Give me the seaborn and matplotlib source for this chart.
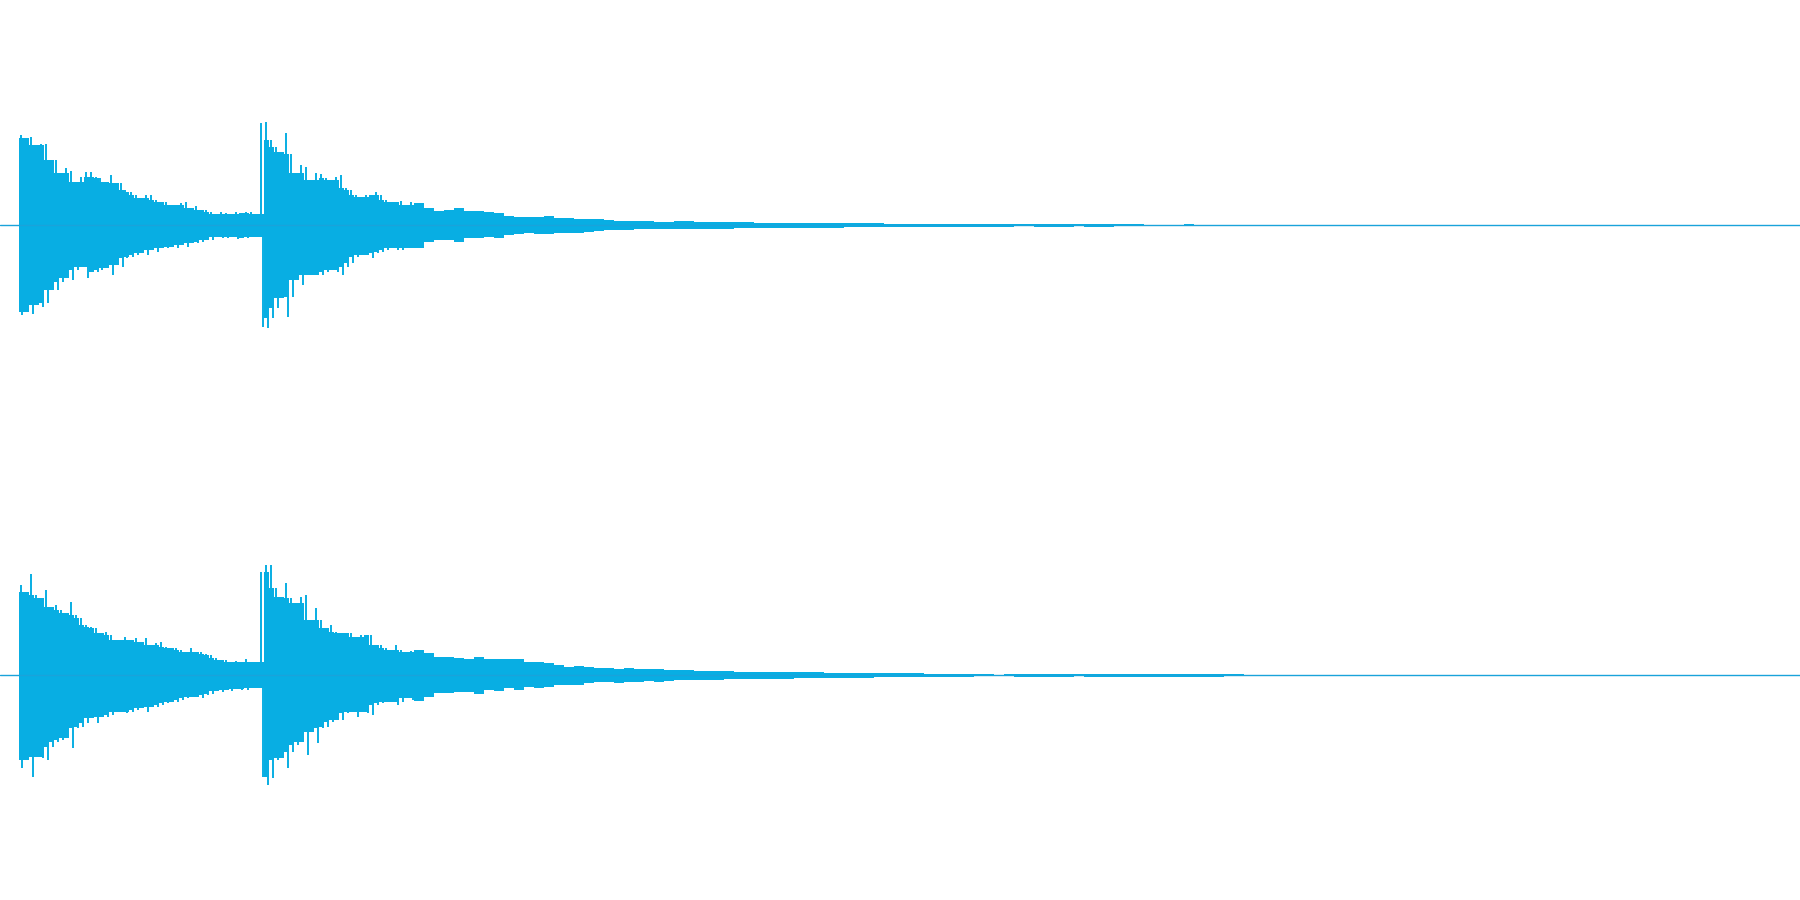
import numpy as np
import matplotlib
matplotlib.use("Agg")
import matplotlib.pyplot as plt
import seaborn as sns

# Peak levels, in units of 1/225 of full scale.
# "hi" = positive peak, "lo" = magnitude of negative peak, per time bin.
FULL_SCALE = 225.0
DURATION = 9.0          # seconds shown across the view
HEAD_START = 0.095      # first sound (s)
HEAD_STEP = 0.025       # bin width for the loud part (s)
TAIL_STEP = 0.05        # bin width for the decay tail (s)

# left channel
top_hi_head = [90, 87, 88, 80, 81, 81, 65, 65, 52, 57, 54, 43, 48, 53, 53, 48, 47, 43, 50, 42,
               42, 35, 33, 30, 27, 30, 30, 25, 23, 23, 20, 20, 22, 23, 17, 19, 15, 15, 13,
               11, 13, 12, 11, 13, 12, 13, 13, 11, 102, 103, 85, 78, 73, 92, 71, 52, 60, 58, 45,
               52, 51, 47, 45, 48, 50, 37, 35, 30, 28, 30, 30, 33, 30, 25, 23, 23, 24, 20, 23]
top_lo_head = [90, 87, 89, 80, 82, 78, 65, 65, 57, 53, 55, 45, 42, 53, 47, 47, 45, 43, 50, 40,
               42, 33, 32, 30, 28, 30, 25, 27, 23, 23, 22, 23, 20, 22, 18, 18, 17, 15, 15,
               12, 13, 13, 12, 14, 13, 13, 12, 12, 102, 103, 93, 83, 73, 92, 72, 55, 60, 50, 50,
               50, 50, 47, 45, 47, 50, 42, 38, 32, 30, 30, 33, 28, 27, 25, 23, 25, 25, 23, 23]
top_hi_tail = [22, 17, 14, 15, 17, 14, 14, 13, 12, 9, 8, 8, 8, 9, 7, 7, 6, 6, 6, 5, 4, 4, 4, 4, 3,
               3, 4, 4, 3,
               3, 3, 3, 3, 3, 2.5, 2.5, 2.5, 2.5, 2.5, 2.5, 2.5, 2.5, 2, 2, 2, 2, 2, 1.5, 1.5,
               1.5, 1.5, 1.5, 1.5, 1.5, 1.5, 1.5,
               1.5, 1.5, 1.5, 1.5, 1, 1, 1.5, 1.5, 1.5, 1.5, 1, 1.5, 1.5, 1.5, 1, 1, 1, 0.5,
               0.5, 0.5, 0.5, 1, 0.5]
top_lo_tail = [23, 17, 15, 15, 17, 13, 13, 12, 13, 10, 9, 8, 9, 9, 8, 8, 8, 7, 6, 5, 5, 5, 4, 4, 4,
               4, 4, 4, 4,
               3.5, 3.5, 3.5, 3, 3, 3, 3, 3, 3, 2.5, 2.5, 2.5, 2.5, 2.5, 2, 2, 2, 2, 2, 1.5, 1.5,
               1.5, 1.5, 1.5, 1.5, 1.5, 1.5,
               1.5, 1.5, 1.5, 1.5, 1, 1, 1.5, 1.5, 1.5, 1.5, 1, 1.5, 1.5, 1.5, 1, 1, 1, 0.5,
               0.5, 0.5, 0.5, 1, 0.5]

# right channel
bot_hi_head = [90, 83, 101, 80, 77, 85, 68, 70, 65, 62, 73, 60, 57, 50, 48, 47, 42, 43, 40, 35,
               35, 38, 35, 37, 33, 37, 30, 32, 33, 28, 27, 27, 25, 23, 27, 23, 23, 21, 20,
               17, 15, 15, 13, 14, 13, 16, 13, 13, 103, 110, 110, 87, 78, 92, 77, 72, 78, 80, 55,
               67, 55, 47, 50, 43, 42, 42, 42, 38, 40, 40, 40, 30, 30, 27, 25, 30, 25, 23, 24]
bot_lo_head = [93, 85, 102, 82, 83, 85, 72, 67, 65, 63, 73, 53, 52, 48, 43, 48, 42, 42, 40, 37,
               37, 38, 37, 35, 33, 37, 32, 32, 30, 28, 27, 27, 25, 23, 22, 22, 23, 20, 19,
               16, 17, 15, 16, 14, 15, 15, 13, 13, 102, 110, 103, 85, 83, 93, 77, 70, 67, 80, 57,
               68, 53, 52, 47, 45, 45, 38, 37, 42, 37, 38, 40, 30, 28, 27, 27, 30, 27, 23, 25]
bot_hi_tail = [25, 22, 18, 18, 17, 16, 18, 16, 16, 16, 16, 13, 13, 12, 10, 8, 9, 8, 7, 7, 6, 7, 6,
               6, 6, 5, 5, 5, 4,
               4, 4, 4, 3.5, 3.5, 3.5, 3.5, 3, 3, 3, 3, 3, 2.5, 2.5, 2.5, 2.5, 2, 2, 2, 2, 2, 2,
               1.5, 1.5, 1.5, 1.5, 1.5,
               1, 1, 0.5, 1, 1.5, 1.5, 1.5, 1.5, 1.5, 1.5, 1, 1.5, 1.5, 1.5, 1.5, 1.5, 1.5, 1.5,
               1.5, 1.5, 1.5, 1.5, 1.5, 1.5, 1.5, 1, 1, 0.5, 0.5]
bot_lo_tail = [26, 22, 18, 18, 17, 17, 19, 15, 16, 13, 15, 12, 13, 12, 10, 10, 10, 8, 7, 7, 8, 7, 7,
               6, 7, 6, 5, 5, 5,
               4.5, 4.5, 4, 4, 4, 4, 3.5, 3.5, 3.5, 3, 3, 3, 3, 2.5, 2.5, 2.5, 2.5, 2, 2, 2, 2, 2,
               1.5, 1.5, 1.5, 1.5, 1.5,
               1, 1, 0.5, 1, 1.5, 1.5, 1.5, 1.5, 1.5, 1.5, 1, 1.5, 1.5, 1.5, 1.5, 1.5, 1.5, 1.5,
               1.5, 1.5, 1.5, 1.5, 1.5, 1.5, 1.5, 1, 1, 0.5, 0.5]

WAVE_COLOR = "#08AEE3"
LINE_COLOR = "#1AA3DA"


def bin_edges(n_head, n_tail):
    """Start times of each bin plus the final end time."""
    head = HEAD_START + HEAD_STEP * np.arange(n_head)
    tail_start = HEAD_START + HEAD_STEP * n_head
    tail = tail_start + TAIL_STEP * np.arange(n_tail + 1)
    return np.concatenate([head, tail])


def body_level(peaks):
    # dense part of the waveform: lowest peak among the bin and its neighbours
    peaks = np.asarray(peaks, dtype=float)
    padded = np.concatenate([[peaks[0]], peaks, [peaks[-1]]])
    return np.minimum(np.minimum(padded[:-2], padded[1:-1]), padded[2:])


def draw_channel(ax, hi_head, lo_head, hi_tail, lo_tail):
    edges = bin_edges(len(hi_head), len(hi_tail))
    hi = np.array(hi_head + hi_tail, dtype=float) / FULL_SCALE
    lo = np.array(lo_head + lo_tail, dtype=float) / FULL_SCALE

    # dense body as a stepped fill (the loud part sits a little below its peaks)
    body_hi = np.concatenate([body_level(hi_head), hi_tail]) / FULL_SCALE
    body_lo = np.concatenate([body_level(lo_head), lo_tail]) / FULL_SCALE
    body_hi = np.append(body_hi, 0)
    body_lo = np.append(body_lo, 0)
    ax.fill_between(edges, -body_lo, body_hi, step="post", color=WAVE_COLOR,
                    lw=0, antialiased=False)

    # individual peaks as thin strokes
    n = len(hi_head)
    starts, widths = edges[:n], np.diff(edges)[:n]
    ax.vlines(starts + widths * 0.3, 0, hi[:n], color=WAVE_COLOR, lw=1.4)
    ax.vlines(starts + widths * 0.7, -lo[:n], 0, color=WAVE_COLOR, lw=1.4)

    sns.lineplot(x=[0, DURATION], y=[0, 0], ax=ax, color=LINE_COLOR, lw=1.0)
    ax.set_xlim(0, DURATION)
    ax.set_ylim(-1, 1)
    ax.set_axis_off()


sns.set_theme(style="white")

fig = plt.figure(figsize=(18, 9), dpi=100)
ax_top = fig.add_axes([0, 0.5, 1, 0.5])
ax_bot = fig.add_axes([0, 0.0, 1, 0.5])

draw_channel(ax_top, top_hi_head, top_lo_head, top_hi_tail, top_lo_tail)
draw_channel(ax_bot, bot_hi_head, bot_lo_head, bot_hi_tail, bot_lo_tail)

fig.savefig("out.png", dpi=100, facecolor="white")
